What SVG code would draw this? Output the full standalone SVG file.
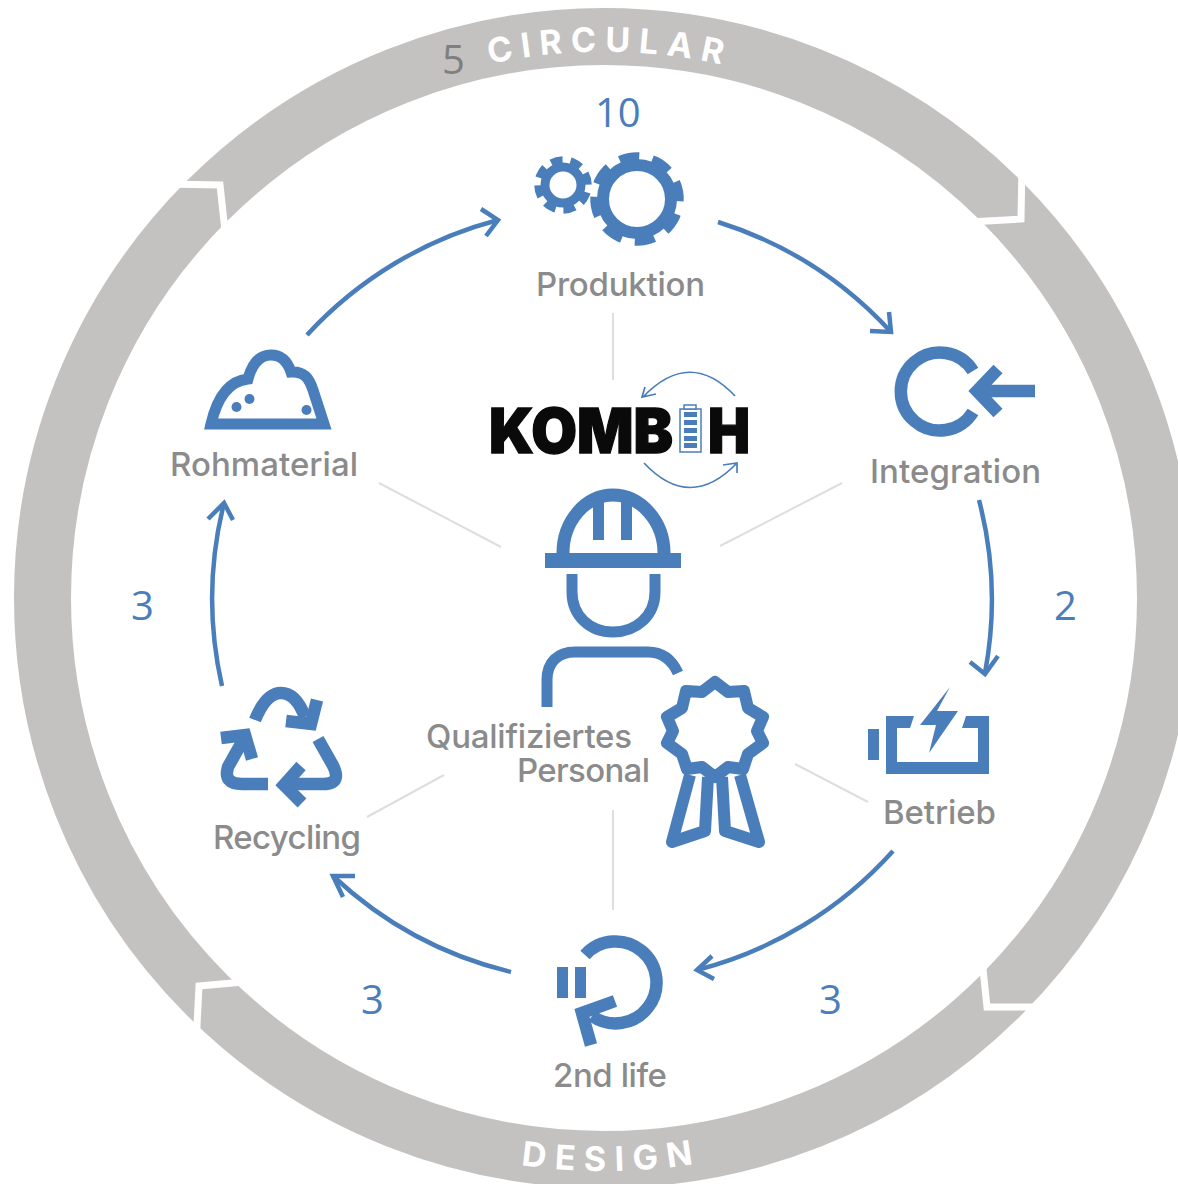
<svg xmlns="http://www.w3.org/2000/svg" width="1178" height="1184" viewBox="0 0 1178 1184">
<style>
.cut{fill:none;stroke:#fff;stroke-width:7;stroke-linejoin:miter}
.ringtxt{font-family:"Inter","Liberation Sans",sans-serif;font-weight:700;font-size:34px;fill:#fff}
.lab{font-family:"Inter","Liberation Sans",sans-serif;font-weight:500;font-size:33px;fill:#8b8b8b}
.num{font-family:"Open Sans","Liberation Sans",sans-serif;font-size:40px;fill:#4a7ebb}
.arc{fill:none;stroke:#4a7ebb;stroke-width:4.500;stroke-linejoin:miter}
.thin{fill:none;stroke:#4a7ebb;stroke-width:1.700}
.spoke{stroke:#dedede;stroke-width:2;fill:none}
.ic{fill:none;stroke:#4a7ebb;stroke-width:12.500;stroke-linejoin:miter}
.rd{stroke-linejoin:round;stroke-width:12}
.bf{fill:#4a7ebb}
</style>
<defs>
<path id="p1" d="M331 125A546 546 0 0 1 877 125"/>
<path id="p2" d="M317 1094A573 573 0 0 0 891 1094"/>
</defs>
<rect width="1178" height="1184" fill="#fff"/>
<g id="ring">
<circle cx="604" cy="598" r="561.5" fill="none" stroke="#c4c1c1" stroke-width="57"/>
<polyline class="cut" points="1022,165 1021,219 970,222"/>
<polyline class="cut" points="981,950 987,1007 1045,1007"/>
<polyline class="cut" points="255,981 199,986 196,1045"/>
<polyline class="cut" points="165,184 220,185 226,240"/>
<text class="ringtxt" letter-spacing="8.500"><textPath href="#p1" startOffset="51%" text-anchor="middle">CIRCULAR</textPath></text>
<text class="ringtxt" letter-spacing="9"><textPath href="#p2" startOffset="51.300%" text-anchor="middle">DESIGN</textPath></text>
</g>
<g id="connectors">
<path class="arc" d="M307 335A395 395 0 0 1 498 220"/>
<polyline class="arc" points="481,209 498,220 486,236"/>
<path class="arc" d="M718 222A395 395 0 0 1 891 332"/>
<polyline class="arc" points="870,331 891,332 889,312"/>
<path class="arc" d="M979 500A395 395 0 0 1 985 673"/>
<polyline class="arc" points="970,662 985,674 998,656"/>
<path class="arc" d="M893 851A395 395 0 0 1 697 970"/>
<polyline class="arc" points="712,956 697,970 714,979"/>
<path class="arc" d="M511 972A395 395 0 0 1 333 876"/>
<polyline class="arc" points="355,876 333,876 343,897"/>
<path class="arc" d="M222 686A395 395 0 0 1 224 503"/>
<polyline class="arc" points="208,519 224,503 233,520"/>
<line class="spoke" x1="613" y1="313" x2="613" y2="380"/>
<line class="spoke" x1="379" y1="483" x2="501" y2="547"/>
<line class="spoke" x1="842" y1="483" x2="720" y2="546"/>
<line class="spoke" x1="795" y1="764" x2="868" y2="802"/>
<line class="spoke" x1="444" y1="775" x2="367" y2="817"/>
<line class="spoke" x1="613" y1="810" x2="613" y2="910"/>
</g>
<g id="produktion">
<circle cx="637" cy="199" r="34" fill="none" stroke="#4a7ebb" stroke-width="12"/>
<circle cx="637" cy="199" r="42.500" fill="none" stroke="#4a7ebb" stroke-width="8.500" pathLength="80" stroke-dasharray="6 4" stroke-dashoffset="1" transform="rotate(25.500 637 199)"/>
<circle cx="563" cy="185" r="18" fill="none" stroke="#4a7ebb" stroke-width="9"/>
<circle cx="563" cy="185" r="25" fill="none" stroke="#4a7ebb" stroke-width="7.500" pathLength="80" stroke-dasharray="6 4" stroke-dashoffset="1" transform="rotate(21.500 563 185)"/>
<text class="lab" x="536" y="296" textLength="169">Produktion</text>
<text class="num" x="595" y="127">10</text>
</g>
<g id="integration">
<path class="ic" d="M973 371A39 39 0 1 0 973 412"/>
<path class="ic" d="M1035 391H977M998 369L977 391L998 413"/>
<text class="lab" x="870" y="483" textLength="171">Integration</text>
<text class="num" x="1054" y="620">2</text>
</g>
<g id="betrieb">
<rect class="bf" x="868" y="729" width="11" height="31"/>
<path class="bf" d="M886 716H914L910 728H897V762H978V728H962L966 716H989V774H886Z"/>
<path class="bf" d="M950 687L937 711H958L929 753L936 725H920Z"/>
<text class="lab" x="883" y="824" textLength="113">Betrieb</text>
<text class="num" x="819" y="1014">3</text>
</g>
<g id="second-life">
<rect class="bf" x="557" y="967" width="11" height="31"/>
<rect class="bf" x="575" y="967" width="11" height="31"/>
<path class="ic" d="M585 955A41 41 0 1 1 592 1016"/>
<path class="ic" d="M615 1001L582 1013L591 1045"/>
<text class="lab" x="553" y="1087" textLength="114">2nd life</text>
<text class="num" x="361" y="1014">3</text>
</g>
<g id="recycling">
<path class="ic" d="M255 720Q266 693 281 693Q296 693 305 717"/>
<path class="ic" d="M317 700L311 724L286 721"/>
<path class="ic" d="M268 784H242Q223 784 228 767L242 742"/>
<path class="ic" d="M221 738L245 735L252 759"/>
<path class="ic" d="M318 739L331 762Q344 784 323 784H287"/>
<path class="ic" d="M301 766L284 785L302 803"/>
<text class="lab" x="213" y="849" textLength="148">Recycling</text>
<text class="num" x="131" y="620">3</text>
</g>
<g id="rohmaterial">
<path class="ic" style="stroke-width:11" d="M211 424C217 398 228 381 248 379C252 364 259 355 271 355C282 355 288 363 291 372C304 371 309 378 313 390L324 424Z"/>
<circle class="bf" cx="236.500" cy="407" r="5"/>
<circle class="bf" cx="249.500" cy="399" r="5"/>
<circle class="bf" cx="306.500" cy="410" r="5"/>
<text class="lab" x="170" y="476" textLength="188">Rohmaterial</text>
</g>
<g id="kombih">
<text x="489" y="452.500" font-family="Inter,'Liberation Sans',sans-serif" font-weight="900" font-size="62" textLength="184" lengthAdjust="spacingAndGlyphs" fill="#0a0a0a" stroke="#0a0a0a" stroke-width="1.300">KOMB</text>
<text x="708" y="452.500" font-family="Inter,'Liberation Sans',sans-serif" font-weight="900" font-size="62" textLength="42" lengthAdjust="spacingAndGlyphs" fill="#0a0a0a" stroke="#0a0a0a" stroke-width="1.300">H</text>
<rect x="680" y="409" width="21" height="43" fill="#fff" stroke="#4a7ebb" stroke-width="1.500"/>
<rect x="684" y="405" width="12" height="4" fill="#fff" stroke="#4a7ebb" stroke-width="1.500"/>
<rect class="bf" x="684" y="412" width="13" height="5"/>
<rect class="bf" x="684" y="420" width="13" height="5"/>
<rect class="bf" x="684" y="428" width="13" height="5"/>
<rect class="bf" x="684" y="436" width="13" height="5"/>
<rect class="bf" x="684" y="443" width="13" height="5"/>
<path class="thin" d="M735 396Q690 348 643 397M645 387L642 397L656 394"/>
<path class="thin" d="M644 463Q690 512 737 463M723 465L737 463L737 473"/>
</g>
<g id="personal">
<path class="ic" style="stroke-width:13" d="M563 553C563 522 585 495 613 495C641 495 664 522 664 553"/>
<rect class="bf" x="545" y="553" width="136" height="15"/>
<rect class="bf" x="593" y="495" width="11" height="45"/>
<rect class="bf" x="621" y="495" width="11" height="45"/>
<path class="ic" style="stroke-width:11" d="M572 574V592C572 616 590 632 613 632C636 632 655 616 655 592V574"/>
<path class="ic" style="stroke-width:11" d="M547 707V680C547 662 558 652 575 652H648C662 652 672 660 678 673"/>
<path class="ic rd" d="M715 682L728 692L744 691L748 708L763 717L757 731L763 743L748 754L743 769L728 767L715 777L702 767L687 769L682 754L667 743L673 731L667 717L682 708L686 691L702 692Z"/>
<path class="ic rd" d="M690 775L672 842L705 831L708 777M740 775L759 842L725 831L722 777"/>
<text class="lab" x="426" y="748" textLength="206">Qualifiziertes</text>
<text class="lab" x="517" y="782" textLength="133">Personal</text>
</g>
<text id="five" x="442" y="74" font-family="'Open Sans','Liberation Sans',sans-serif" font-size="40" fill="#7f7f7f">5</text>
</svg>
